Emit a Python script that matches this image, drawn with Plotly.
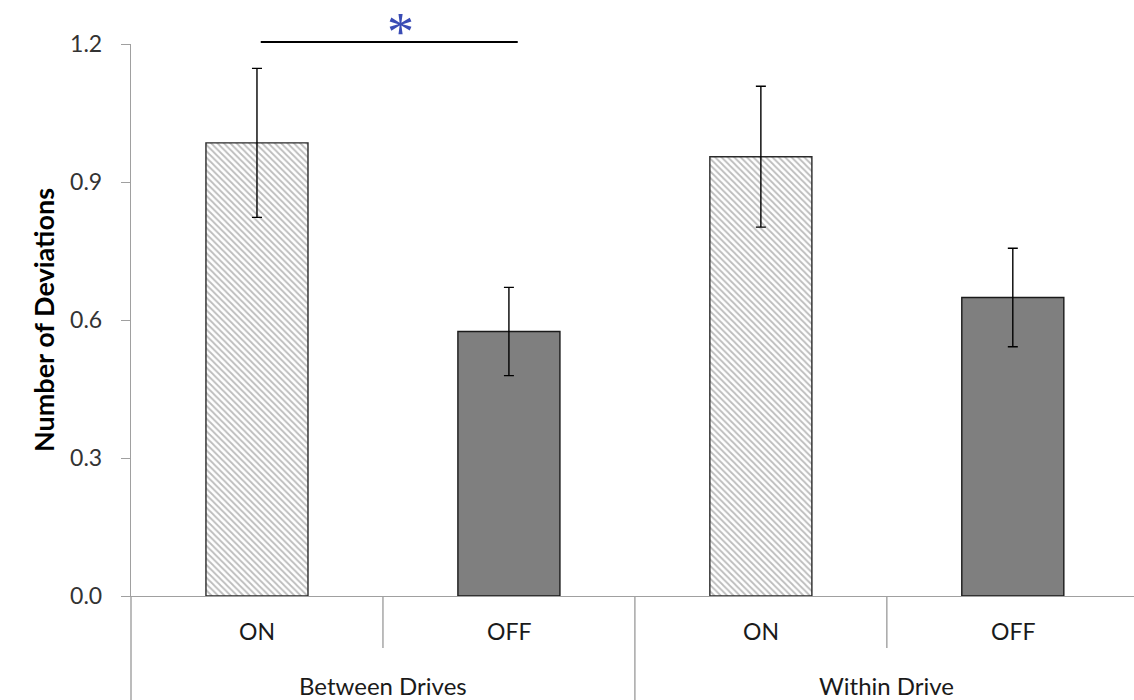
import plotly.graph_objects as go

groups = ["Between Drives", "Within Drive"]
conditions = ["ON", "OFF"]
on_means = [0.985, 0.955]
on_err = [0.162, 0.153]
off_means = [0.575, 0.649]
off_err = [0.096, 0.107]
y_ticks = [0.0, 0.3, 0.6, 0.9, 1.2]

on_x = [0, 2]
off_x = [1, 3]

FONT = "Lato, 'Open Sans', sans-serif"
AXIS_GRAY = "#a0a0a0"

fig = go.Figure()
fig.add_trace(go.Bar(
    x=on_x, y=on_means, width=0.405,
    marker=dict(color="white",
                pattern=dict(shape="\\", fgcolor="#7a7a7a", bgcolor="white",
                             size=4.5, solidity=0.4),
                line=dict(color="#2a2a2a", width=1.4)),
    error_y=dict(type="data", array=on_err, color="black", thickness=1.4, width=5),
    showlegend=False,
))
fig.add_trace(go.Bar(
    x=off_x, y=off_means, width=0.405,
    marker=dict(color="#7f7f7f", line=dict(color="#1a1a1a", width=1.4)),
    error_y=dict(type="data", array=off_err, color="black", thickness=1.4, width=5),
    showlegend=False,
))

b = -104 / 552  # bottom of figure in paper coords
row1 = -52 / 552

shapes = []
shapes.append(dict(type="line", xref="paper", yref="paper", x0=0, x1=0, y0=b, y1=0,
                   line=dict(color=AXIS_GRAY, width=1.4)))
for xv in [0.5, 2.5]:
    shapes.append(dict(type="line", xref="x", yref="paper", x0=xv, x1=xv, y0=row1, y1=0,
                       line=dict(color=AXIS_GRAY, width=1.4)))
shapes.append(dict(type="line", xref="x", yref="paper", x0=1.5, x1=1.5, y0=b, y1=0,
                   line=dict(color=AXIS_GRAY, width=1.4)))
shapes.append(dict(type="line", xref="x", yref="paper", x0=on_x[0] + 0.015, x1=off_x[0] + 0.035,
                   y0=1.0036, y1=1.0036, line=dict(color="black", width=2)))

annotations = []
all_x = [0, 1, 2, 3]
all_labels = [conditions[0], conditions[1], conditions[0], conditions[1]]
for xv, lab in zip(all_x, all_labels):
    annotations.append(dict(x=xv, y=-35 / 552, xref="x", yref="paper", text=lab,
                            showarrow=False, font=dict(family=FONT, size=23, color="#1a1a1a"),
                            xanchor="center", yanchor="middle"))
for gi, g in enumerate(groups):
    annotations.append(dict(x=gi * 2 + 0.5, y=-89 / 552, xref="x", yref="paper", text=g,
                            showarrow=False, font=dict(family=FONT, size=24, color="#1a1a1a"),
                            xanchor="center", yanchor="middle"))
annotations.append(dict(x=0.57, y=1 + 43.5 / 552, xref="x", yref="paper", text="*",
                        showarrow=False, font=dict(family="Liberation Serif", size=54, color="#3a4cb5"),
                        xanchor="center", yanchor="top", borderpad=0))

fig.update_layout(
    width=1134, height=700,
    margin=dict(l=131, r=0, t=44, b=104),
    paper_bgcolor="white", plot_bgcolor="white",
    shapes=shapes, annotations=annotations,
    xaxis=dict(range=[-0.5, 3.481], showticklabels=False, ticks="", showgrid=False,
               zeroline=False, showline=True, linecolor=AXIS_GRAY, linewidth=1.4),
    yaxis=dict(range=[0, 1.2], tickvals=y_ticks, tickformat=".1f", ticks="outside",
               ticklen=9, tickcolor=AXIS_GRAY, tickwidth=1.4, showgrid=False, zeroline=False,
               showline=True, linecolor=AXIS_GRAY, linewidth=1.4, ticklabelstandoff=14,
               tickfont=dict(family=FONT, size=23, color="#333333"),
               title=dict(text="<b>Number of Deviations</b>", standoff=7,
                          font=dict(family=FONT, size=27, color="black"))),
)

fig.write_html("out.html", config={"displayModeBar": False},
               post_script="document.body.style.margin='0';document.body.style.overflow='hidden';")
